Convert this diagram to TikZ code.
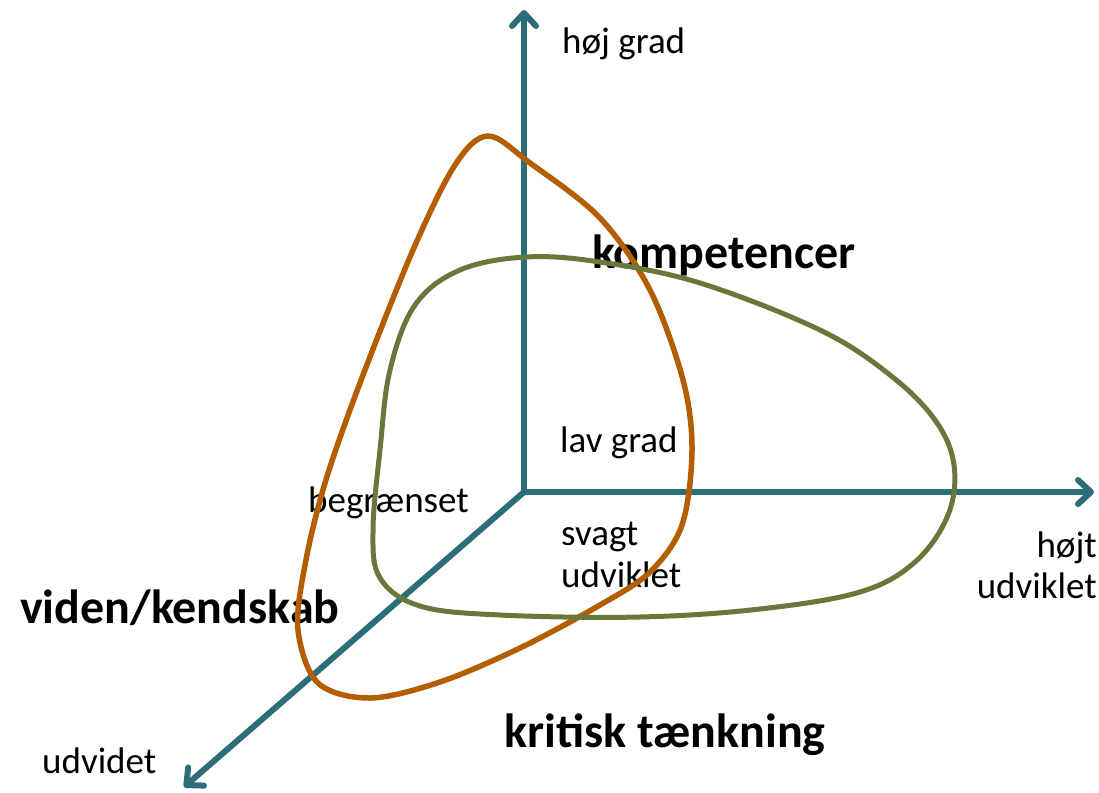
\documentclass[tikz,border=0pt]{standalone}
\usepackage{fontspec}
\setmainfont{Carlito}
\usetikzlibrary{arrows.meta}
\definecolor{axisteal}{HTML}{2C6D7A}
\definecolor{curveorange}{HTML}{B35E00}
\definecolor{curvegreen}{HTML}{68773A}
\tikzset{
  axisline/.style={draw=axisteal, line width=6pt, line cap=round,
    -{Straight Barb[length=13pt,width=24pt,line cap=round,line join=round]}},
  lbl/.style={font=\fontsize{37}{42}\selectfont, inner sep=0pt, text=black},
  biglbl/.style={font=\fontsize{48}{56}\selectfont\bfseries, inner sep=0pt, text=black},
  orangecurve/.style={draw=curveorange, line width=5.5pt},
  greencurve/.style={draw=curvegreen, line width=5pt},
}
\begin{document}
\begin{tikzpicture}[x=1pt,y=-1pt]
\useasboundingbox (0,0) rectangle (1099,792);
% axes
\coordinate (O) at (524,492);
\coordinate (ytip) at (524,10);
\coordinate (xtip) at (1094,492);
\coordinate (ztip) at (184,787);
\draw[axisline] (O) -- (ytip);
\draw[axisline] (O) -- (xtip);
\draw[axisline] (O) -- (ztip);
% labels
\node[lbl, anchor=base west] (hoejgrad) at (562,54) {høj grad};
\node[lbl, anchor=base west] (lavgrad) at (560,452) {lav grad};
\node[lbl, anchor=base west] (begr) at (308,512) {begrænset};
\node[lbl, anchor=base west] (svagt) at (561,545) {svagt};
\node[lbl, anchor=base west] (svagtb) at (561,587) {udviklet};
\node[lbl, anchor=base east] (hoejt) at (1097,557) {højt};
\node[lbl, anchor=base east] (hoejtb) at (1097,598) {udviklet};
\node[lbl, anchor=base west] (udvidet) at (42,773) {udvidet};
\node[biglbl, anchor=base west] (komp) at (592,268) {kompetencer};
\node[biglbl, anchor=base west] (viden) at (20,623) {viden/kendskab};
\node[biglbl, anchor=base west] (kritisk) at (504,747) {kritisk tænkning};
% curves
\draw[orangecurve] plot[smooth cycle, tension=0.55] coordinates {
  (488,136) (530,163) (600,218) (650,290) (683,380) (692,450) (682,525)
  (650,572) (600,605) (520,648) (440,682) (370,698) (318,683) (298,630)
  (305,565) (325,483) (360,383) (413,250) (455,165)};
\draw[greencurve] plot[smooth cycle, tension=0.6] coordinates {
  (526,257) (600,262) (700,283) (820,330) (890,375) (935,420) (954,465)
  (948,515) (915,562) (860,592) (760,609) (640,617) (500,615) (420,606)
  (380,578) (373,530) (380,450) (390,370) (415,305) (460,270)};
\end{tikzpicture}
\end{document}
